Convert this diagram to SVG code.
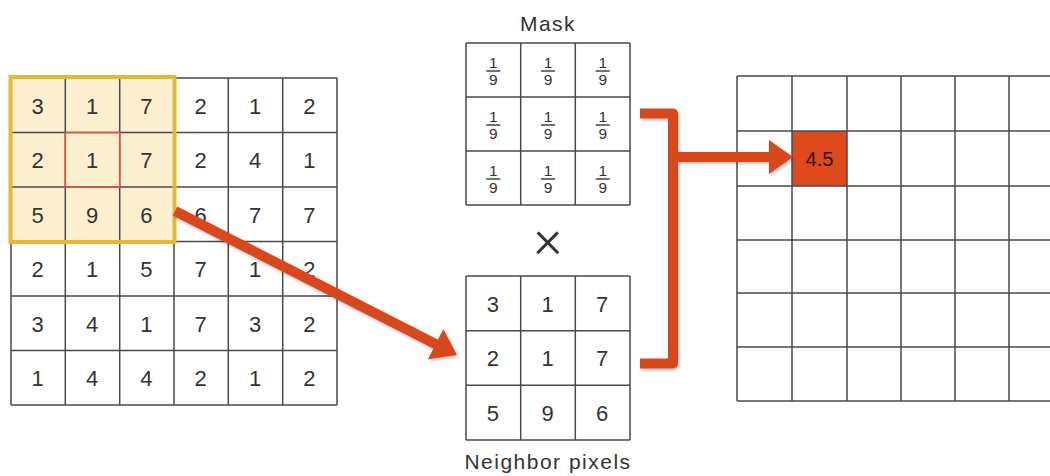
<svg xmlns="http://www.w3.org/2000/svg" width="1050" height="476" viewBox="0 0 1050 476">
<defs>
<style>
.g{fill:none;stroke:#4a4a4a;stroke-width:1.5}
.t{font-family:"Liberation Sans",Arial,sans-serif;font-size:22px;fill:#333;text-anchor:middle;letter-spacing:1px}
.f{font-family:"Liberation Sans",Arial,sans-serif;font-size:15.5px;fill:#333;text-anchor:middle}
.fl{stroke:#444;stroke-width:1.3}
.lbl{font-family:"Liberation Sans",Arial,sans-serif;font-size:21px;fill:#333;text-anchor:middle;letter-spacing:1.5px}
.arr{fill:none;stroke:#d9471f;stroke-width:10}
</style>
<marker id="head" markerUnits="userSpaceOnUse" markerWidth="26" markerHeight="34" refX="2" refY="17" orient="auto">
<path d="M0,0 L24,17 L0,34 z" fill="#d9471f"/>
</marker>
<filter id="sh" x="-10%" y="-10%" width="120%" height="130%">
<feDropShadow dx="1" dy="2" stdDeviation="1.5" flood-color="#000" flood-opacity="0.25"/>
</filter>
</defs>
<rect width="1050" height="476" fill="#fff"/>

<g id="input-image">
<rect x="11" y="78" width="163" height="163.5" fill="#fcefd0"/>
<path class="g" d="M11,78H337M11,132.5H337M11,187H337M11,241.5H337M11,296H337M11,350.5H337M11,405H337M11,78V405M65.3,78V405M119.7,78V405M174,78V405M228.3,78V405M282.7,78V405M337,78V405"/>
<rect x="10.5" y="77" width="164" height="165" fill="none" stroke="#e6b935" stroke-width="4"/>
<rect x="65.3" y="132.5" width="54.4" height="54.5" fill="none" stroke="#e2553c" stroke-width="1.5"/>
<g class="t">
<text x="38.2" y="113.5">3</text><text x="92.5" y="113.5">1</text><text x="146.8" y="113.5">7</text><text x="201.2" y="113.5">2</text><text x="255.5" y="113.5">1</text><text x="309.8" y="113.5">2</text>
<text x="38.2" y="168">2</text><text x="92.5" y="168">1</text><text x="146.8" y="168">7</text><text x="201.2" y="168">2</text><text x="255.5" y="168">4</text><text x="309.8" y="168">1</text>
<text x="38.2" y="222.5">5</text><text x="92.5" y="222.5">9</text><text x="146.8" y="222.5">6</text><text x="201.2" y="222.5">6</text><text x="255.5" y="222.5">7</text><text x="309.8" y="222.5">7</text>
<text x="38.2" y="277">2</text><text x="92.5" y="277">1</text><text x="146.8" y="277">5</text><text x="201.2" y="277">7</text><text x="255.5" y="277">1</text><text x="309.8" y="277">2</text>
<text x="38.2" y="331.5">3</text><text x="92.5" y="331.5">4</text><text x="146.8" y="331.5">1</text><text x="201.2" y="331.5">7</text><text x="255.5" y="331.5">3</text><text x="309.8" y="331.5">2</text>
<text x="38.2" y="386">1</text><text x="92.5" y="386">4</text><text x="146.8" y="386">4</text><text x="201.2" y="386">2</text><text x="255.5" y="386">1</text><text x="309.8" y="386">2</text>
</g>
</g>

<g id="mask">
<text class="lbl" x="548" y="31">Mask</text>
<path class="g" d="M466,43H630M466,97H630M466,151H630M466,205H630M466,43V205M520.7,43V205M575.3,43V205M630,43V205"/>
<g class="f">
<text x="493.3" y="67.5">1</text><text x="548" y="67.5">1</text><text x="602.7" y="67.5">1</text>
<text x="493.3" y="85">9</text><text x="548" y="85">9</text><text x="602.7" y="85">9</text>
<text x="493.3" y="121.5">1</text><text x="548" y="121.5">1</text><text x="602.7" y="121.5">1</text>
<text x="493.3" y="139">9</text><text x="548" y="139">9</text><text x="602.7" y="139">9</text>
<text x="493.3" y="175.5">1</text><text x="548" y="175.5">1</text><text x="602.7" y="175.5">1</text>
<text x="493.3" y="193">9</text><text x="548" y="193">9</text><text x="602.7" y="193">9</text>
</g>
<path class="fl" d="M486.3,71H500.3M541,71H555M595.7,71H609.7M486.3,125H500.3M541,125H555M595.7,125H609.7M486.3,179H500.3M541,179H555M595.7,179H609.7"/>
</g>

<g id="times">
<text x="548" y="257" font-family="Roboto, Liberation Sans, sans-serif" font-weight="300" font-size="54" fill="#333" text-anchor="middle">×</text>
</g>

<g id="neighbor-pixels">
<path class="g" d="M466,276H630M466,330.7H630M466,385.3H630M466,440H630M466,276V440M520.7,276V440M575.3,276V440M630,276V440"/>
<g class="t">
<text x="493.3" y="311.5">3</text><text x="548" y="311.5">1</text><text x="602.7" y="311.5">7</text>
<text x="493.3" y="366">2</text><text x="548" y="366">1</text><text x="602.7" y="366">7</text>
<text x="493.3" y="420.5">5</text><text x="548" y="420.5">9</text><text x="602.7" y="420.5">6</text>
</g>
<text class="lbl" x="548" y="469">Neighbor pixels</text>
</g>

<g id="output-image">
<rect x="792" y="131" width="55" height="55" fill="#df4a1d"/>
<path class="g" d="M737,76H1050M737,131H1050M737,186H1050M737,240H1050M737,293H1050M737,347H1050M737,401H1050M737,76V401M792,76V401M847,76V401M901,76V401M955,76V401M1009,76V401"/>
<text x="819.5" y="166" font-family="Liberation Sans, Arial, sans-serif" font-size="20" fill="#2a1410" text-anchor="middle">4.5</text>
</g>

<g id="connectors" filter="url(#sh)">
<line class="arr" x1="175" y1="211" x2="437.4" y2="345" marker-end="url(#head)" stroke-width="9"/>
<path class="arr" d="M640,113.5H673V363.5H640" stroke-width="11" stroke-linejoin="round"/>
<line class="arr" x1="673" y1="157" x2="771" y2="157" marker-end="url(#head)"/>
</g>
</svg>
